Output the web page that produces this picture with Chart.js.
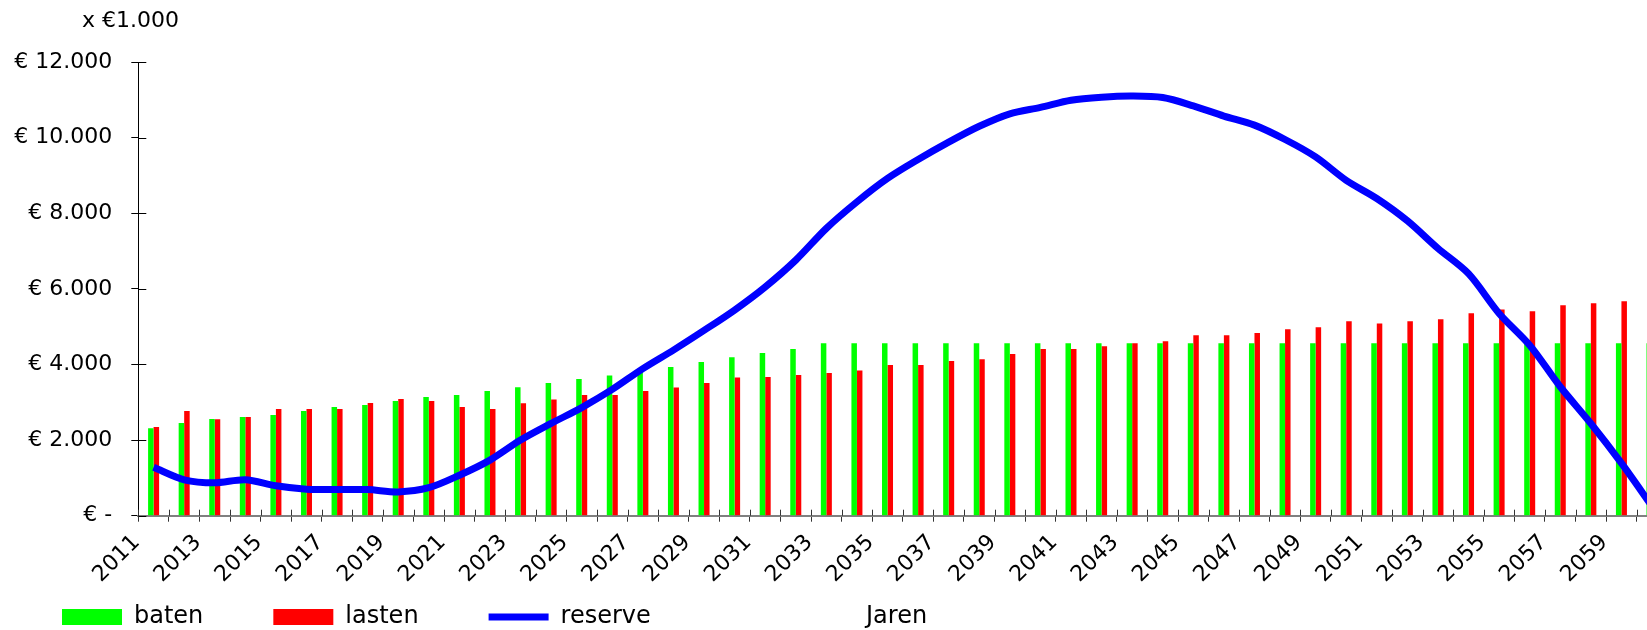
<!DOCTYPE html>
<html>
<head>
<meta charset="utf-8">
<script src="https://cdn.jsdelivr.net/npm/chart.js@4.4.1/dist/chart.umd.min.js"></script>
<style>
html, body { margin: 0; padding: 0; background: #fff; overflow: hidden; width: 1647px; height: 630px; }
#wrap { position: absolute; left: 0; top: 0; width: 1680px; height: 630px; }
canvas { display: block; }
</style>
</head>
<body>
<div id="wrap"><canvas id="c" width="1680" height="630"></canvas></div>
<script>
const years = ['2011','2012','2013','2014','2015','2016','2017','2018','2019','2020',
  '2021','2022','2023','2024','2025','2026','2027','2028','2029','2030',
  '2031','2032','2033','2034','2035','2036','2037','2038','2039','2040',
  '2041','2042','2043','2044','2045','2046','2047','2048','2049','2050',
  '2051','2052','2053','2054','2055','2056','2057','2058','2059','2060'];

const baten = [2310, 2450, 2556, 2609, 2661, 2767, 2873, 2926, 3031, 3137,
  3190, 3296, 3400, 3507, 3613, 3711, 3824, 3930, 4062, 4194,
  4300, 4406, 4564, 4564, 4564, 4564, 4564, 4564, 4564, 4564,
  4564, 4564, 4564, 4564, 4564, 4564, 4564, 4564, 4564, 4564,
  4564, 4564, 4564, 4564, 4564, 4564, 4564, 4564, 4564, 4564];

const lasten = [2345, 2767, 2550, 2609, 2820, 2820, 2820, 2979, 3084, 3031,
  2873, 2820, 2971, 3076, 3190, 3190, 3296, 3394, 3507, 3658,
  3666, 3719, 3772, 3843, 3983, 3983, 4089, 4141, 4274, 4406,
  4406, 4485, 4564, 4617, 4776, 4776, 4829, 4934, 4987, 5146,
  5085, 5146, 5199, 5357, 5455, 5410, 5569, 5622, 5675, 5730];

const reserve = [1280, 950, 870, 950, 790, 700, 690, 690, 630, 740,
  1070, 1470, 2000, 2440, 2860, 3340, 3890, 4380, 4900, 5440,
  6050, 6760, 7600, 8300, 8920, 9420, 9880, 10300, 10630, 10800,
  10990, 11070, 11100, 11060, 10840, 10570, 10330, 9950, 9490, 8870,
  8390, 7800, 7070, 6400, 5350, 4510, 3410, 2440, 1390, 250];

const seriesNames = ['baten', 'lasten', 'reserve'];
const unitLabel = 'x \u20AC1.000';
const axisTitle = 'Jaren';

function euro(v) {
  if (v === 0) return '\u20AC -';
  return '\u20AC ' + String(v).replace(/\B(?=(\d{3})+(?!\d))/g, '.');
}

const extras = {
  id: 'extras',
  afterLayout(chart) {
    // let the rotated year labels draw below the (thin) x-axis box
    const xs = chart.scales.x;
    xs.bottom = chart.height;
    xs.height = xs.bottom - xs.top;
  },
  afterDraw(chart) {
    const ctx = chart.ctx, a = chart.chartArea, xs = chart.scales.x, ys = chart.scales.y;
    ctx.save();
    ctx.lineWidth = 1;
    ctx.strokeStyle = '#000';
    ys.ticks.forEach(t => {
      const py = Math.round(ys.getPixelForValue(t.value)) + 0.5;
      ctx.beginPath(); ctx.moveTo(a.left, py); ctx.lineTo(a.left + 8, py); ctx.stroke();
    });
    const step = xs.getPixelForValue(1) - xs.getPixelForValue(0);
    ctx.strokeStyle = '#333';
    for (let i = 0; i <= years.length; i++) {
      const px = Math.round(xs.getPixelForValue(i) - step / 2) + 0.5;
      ctx.beginPath(); ctx.moveTo(px, a.bottom - 6); ctx.lineTo(px, a.bottom); ctx.stroke();
    }
    ctx.fillStyle = '#000';
    ctx.font = '22px "DejaVu Sans"';
    ctx.textAlign = 'left';
    ctx.textBaseline = 'alphabetic';
    ctx.fillText(unitLabel, 82, 26.5);
    const lp = chart.options.plugins.legend.labels.padding;
    ctx.font = '24px "DejaVu Sans"';
    ctx.textBaseline = 'middle';
    ctx.fillText(axisTitle, 866, chart.legend.top + lp + 12);
    ctx.restore();
  }
};

new Chart(document.getElementById('c'), {
  type: 'bar',
  data: {
    labels: years,
    datasets: [
      { label: seriesNames[0], data: baten, backgroundColor: '#00FF00', borderWidth: 0,
        pointStyle: 'rect', order: 2, categoryPercentage: 0.36, barPercentage: 1.0 },
      { label: seriesNames[1], data: lasten, backgroundColor: '#FF0000', borderWidth: 0,
        pointStyle: 'rect', order: 2, categoryPercentage: 0.36, barPercentage: 1.0 },
      { type: 'line', label: seriesNames[2], data: reserve, borderColor: '#0000FF',
        backgroundColor: '#0000FF', borderWidth: 7, pointRadius: 0, pointStyle: 'line',
        tension: 0.3, fill: false, order: 0 }
    ]
  },
  options: {
    responsive: false,
    animation: false,
    layout: { padding: { left: -8, top: 62, right: 12.7, bottom: -9 } },
    plugins: {
      tooltip: { enabled: false },
      legend: {
        position: 'bottom',
        align: 'start',
        labels: {
          usePointStyle: true,
          pointStyleWidth: 60,
          boxHeight: 16,
          padding: 70,
          color: '#000',
          font: { family: 'DejaVu Sans', size: 24 },
          sort: (a, b) => a.datasetIndex - b.datasetIndex
        }
      }
    },
    scales: {
      x: {
        offset: true,
        border: { color: '#808080', width: 2 },
        grid: { drawOnChartArea: false, drawTicks: true, tickLength: 6, color: '#333', offset: true },
        ticks: {
          autoSkip: false, minRotation: 45, maxRotation: 45, labelOffset: -17, padding: 8,
          color: '#000', font: { family: 'DejaVu Sans', size: 22 },
          callback: function (val, idx) { return idx % 2 === 0 ? this.getLabelForValue(val) : ''; }
        },
        afterFit: s => { s.height = 19.3; }
      },
      y: {
        min: 0, max: 12000,
        border: { color: '#000', width: 1 },
        grid: { drawOnChartArea: false, drawTicks: true, tickLength: 7, color: '#000' },
        ticks: {
          stepSize: 2000, padding: 19, color: '#000',
          font: { family: 'DejaVu Sans', size: 22 },
          callback: v => euro(v)
        },
        afterFit: s => { s.width = 146.3; }
      }
    }
  },
  plugins: [extras]
});
</script>
</body>
</html>
